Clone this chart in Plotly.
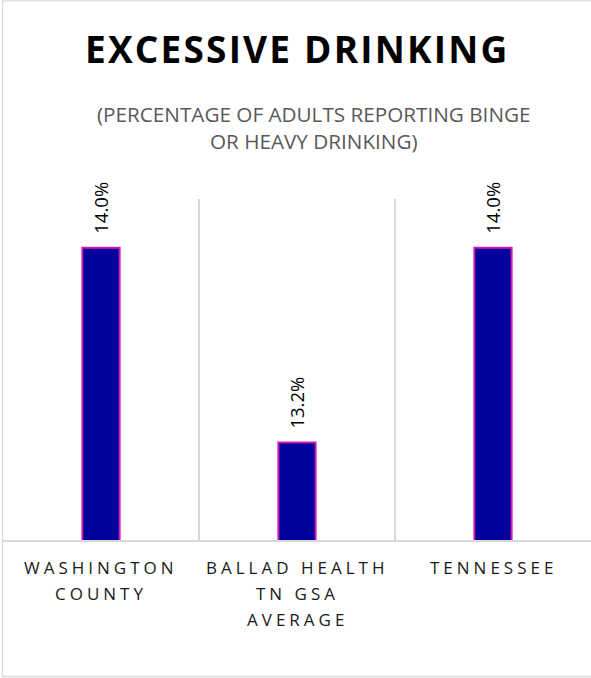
import plotly.graph_objects as go

# ---- data ----
title_text = "EXCESSIVE DRINKING"
subtitle_lines = ["(PERCENTAGE OF ADULTS REPORTING BINGE", "OR HEAVY DRINKING)"]
category_lines = [["WASHINGTON", "COUNTY"], ["BALLAD HEALTH", "TN GSA", "AVERAGE"], ["TENNESSEE"]]
categories = [" ".join(c) for c in category_lines]
values = [14.0, 13.2, 14.0]

# ---- layout geometry (pixels) ----
W, H = 591, 678
PL, PR, PT, PB = 3, 0, 199, 138
plot_h = H - PT - PB


def py2paper(py):
    return (H - PB - py) / plot_h


def px2paper(px):
    return (px - PL) / (W - PL - PR)


def spaced(txt, sp):
    return f"<span style='letter-spacing:{sp}px'>{txt}</span>"


fig = go.Figure()
fig.add_trace(go.Bar(
    x=categories, y=values,
    marker=dict(color="#00009a", line=dict(color="#cc1cb0", width=2)),
    hoverinfo="skip",
))

annotations = []
# title
annotations.append(dict(
    x=0.5, xref="paper", y=py2paper(49), yref="paper", yanchor="middle",
    text="<b>" + spaced(title_text, 2.2) + "</b>", showarrow=False,
    font=dict(family="Open Sans", size=37, color="#000000"),
))
# subtitle
annotations.append(dict(
    x=px2paper(314), xref="paper", y=py2paper(127.5), yref="paper", yanchor="middle",
    text="<br>".join(subtitle_lines), showarrow=False,
    font=dict(family="Open Sans", size=20.7, color="#595959"),
))
# value labels
for c, v in zip(categories, values):
    annotations.append(dict(
        x=c, y=v, xref="x", yref="y", text=f"{v:.1f}%", textangle=-90,
        yanchor="bottom", yshift=12, showarrow=False,
        font=dict(family="Open Sans", size=18.5, color="#000000"),
    ))
# category labels
for c, lines in zip(categories, category_lines):
    for j, ln in enumerate(lines):
        annotations.append(dict(
            x=c, xref="x", y=py2paper(567.8 + 25.7 * j), yref="paper",
            yanchor="middle", text=spaced(ln, 4), showarrow=False,
            font=dict(family="Open Sans", size=17, color="#1a1a1a"),
        ))

fig.update_layout(
    width=W, height=H,
    margin=dict(l=PL, r=PR, t=PT, b=PB),
    paper_bgcolor="white", plot_bgcolor="white",
    bargap=0.81, showlegend=False,
    annotations=annotations,
    shapes=[dict(
        type="rect", xref="paper", yref="paper",
        x0=px2paper(2.5), x1=px2paper(592), y0=py2paper(676.5), y1=py2paper(0.8),
        line=dict(color="#d9d9d9", width=1.3), fillcolor="rgba(0,0,0,0)", layer="above",
    )],
    xaxis=dict(
        type="category", tickson="boundaries", showgrid=True,
        gridcolor="#d9d9d9", gridwidth=1.5, showticklabels=False, ticks="",
        showline=True, linecolor="#d9d9d9", linewidth=1.5, zeroline=False,
        fixedrange=True,
    ),
    yaxis=dict(range=[12.8, 14.2], visible=False, showgrid=False, fixedrange=True),
)

fig.write_html(
    "out.html",
    config=dict(displayModeBar=False),
    post_script="document.body.style.margin='0';document.body.style.overflow='hidden';",
)
